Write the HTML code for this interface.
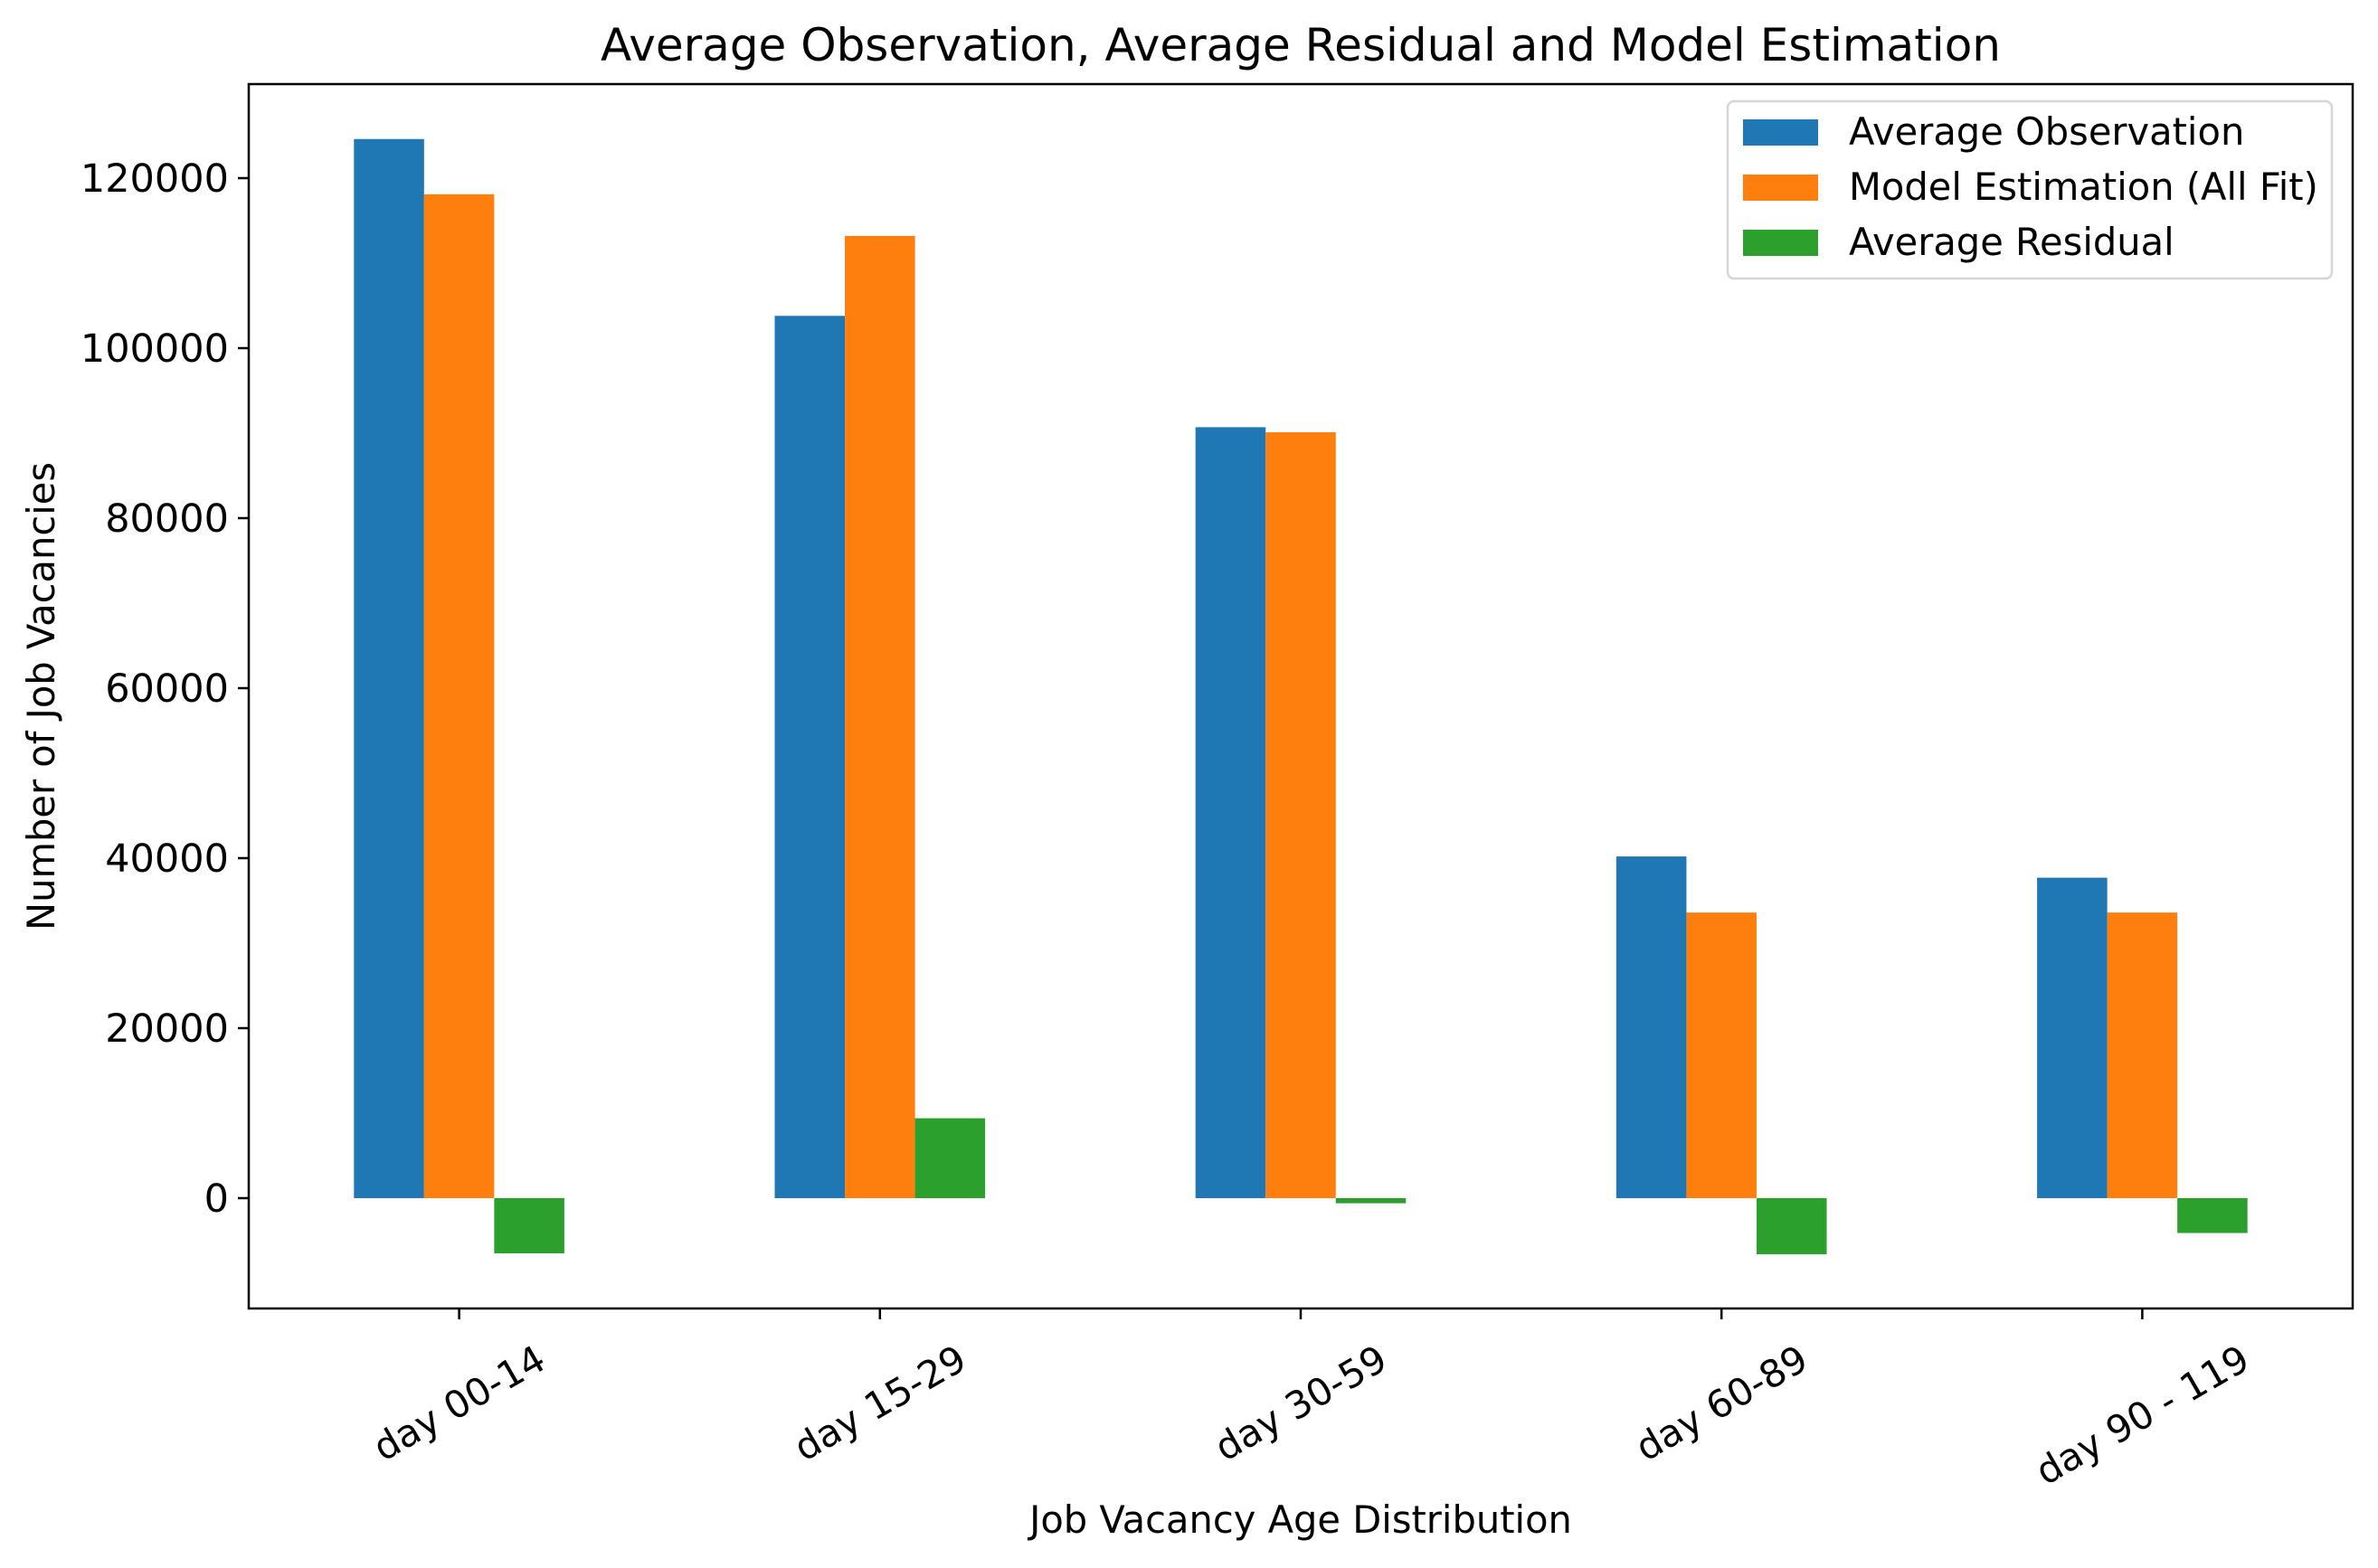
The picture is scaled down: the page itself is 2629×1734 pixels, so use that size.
<!DOCTYPE html>
<html><head><meta charset="utf-8"><style>
html,body{margin:0;padding:0;background:#fff;}
svg{display:block;font-family:"DejaVu Sans","Liberation Sans",sans-serif;}
</style></head><body>
<svg id="chart" width="2629" height="1734" viewBox="0 0 2629 1734">
<rect width="2629" height="1734" fill="#fff"/>
<text x="1438" y="67" font-size="50" text-anchor="middle">Average Observation, Average Residual and Model Estimation</text>
<g id="bars"></g>
<g id="yticks"></g>
<g id="xticks"></g>
<rect x="275" y="93" width="2326" height="1354" fill="none" stroke="#000" stroke-width="2.5"/>
<text transform="translate(60,770) rotate(-90)" font-size="41.6" text-anchor="middle">Number of Job Vacancies</text>
<text x="1438" y="1695" font-size="41.6" text-anchor="middle">Job Vacancy Age Distribution</text>
<g>
<rect x="1910" y="112" width="668" height="196" rx="7" fill="#fff" fill-opacity="0.8" stroke="#d6d6d6" stroke-width="2.5"/>
<rect x="1927" y="132" width="83" height="29" fill="#1f77b4"/>
<text x="2044" y="160" font-size="41.6">Average Observation</text>
<rect x="1927" y="193" width="83" height="29" fill="#ff7f0e"/>
<text x="2044" y="221" font-size="41.6">Model Estimation (All Fit)</text>
<rect x="1927" y="254" width="83" height="29" fill="#2ca02c"/>
<text x="2044" y="282" font-size="41.6">Average Residual</text>
</g>
</svg>
<script>
const categories = ["day 00-14","day 15-29","day 30-59","day 60-89","day 90 - 119"];
const observation = [124600, 103800, 90700, 40200, 37700];
const model = [118100, 113200, 90100, 33600, 33600];
const residual = [-6500, 9400, -600, -6600, -4100];
const yTicks = [0, 20000, 40000, 60000, 80000, 100000, 120000];
const yTickLabels = ["0","20000","40000","60000","80000","100000","120000"];
const colors = ["#1f77b4","#ff7f0e","#2ca02c"];
const NS = "http://www.w3.org/2000/svg";
const L=275,R=2601,T=93,B=1447, yMin=-12979, yMax=131064;
function y(v){return B-(v-yMin)/(yMax-yMin)*(B-T);}
function x(i){return L+(i+0.5)/categories.length*(R-L);}
const unit=(R-L)/categories.length, bw=unit*0.5/3;
const series=[observation,model,residual];
const names=["observation","model","residual"];
const bars=document.getElementById('bars');
series.forEach((s,k)=>{s.forEach((v,i)=>{
  const r=document.createElementNS(NS,'rect');
  const x0=x(i)-unit*0.25+k*bw;
  r.setAttribute('x',x0);r.setAttribute('width',bw);
  r.setAttribute('y',Math.min(y(v),y(0)));r.setAttribute('height',Math.abs(y(v)-y(0)));
  r.setAttribute('fill',colors[k]);
  
  
  bars.appendChild(r);
});});
const yt=document.getElementById('yticks');
yTicks.forEach((v,i)=>{
  const l=document.createElementNS(NS,'line');
  l.setAttribute('x1',L-12);l.setAttribute('x2',L);l.setAttribute('y1',y(v));l.setAttribute('y2',y(v));
  l.setAttribute('stroke','#000');l.setAttribute('stroke-width','2.5');
  
  
  yt.appendChild(l);
  const t=document.createElementNS(NS,'text');
  t.setAttribute('x',L-22);t.setAttribute('y',y(v)+15);t.setAttribute('text-anchor','end');t.setAttribute('font-size','43');
  t.textContent=yTickLabels[i];
  
  
  yt.appendChild(t);
});
const xt=document.getElementById('xticks');
categories.forEach((c,i)=>{
  const l=document.createElementNS(NS,'line');
  l.setAttribute('x1',x(i));l.setAttribute('x2',x(i));l.setAttribute('y1',B);l.setAttribute('y2',B+12);
  l.setAttribute('stroke','#000');l.setAttribute('stroke-width','2.5');
  
  
  xt.appendChild(l);
  const t=document.createElementNS(NS,'text');
  t.setAttribute('font-size','41.6');t.setAttribute('text-anchor','middle');t.setAttribute('dominant-baseline','central');
  t.textContent=c;
  
  
  xt.appendChild(t);
  const w=t.getComputedTextLength(), h=46;
  const bh=w*0.5+h*0.866;
  const cy=B+12+20+bh/2;
  t.setAttribute('transform','translate('+x(i)+','+cy+') rotate(-30)');
});
</script>
</body></html>
